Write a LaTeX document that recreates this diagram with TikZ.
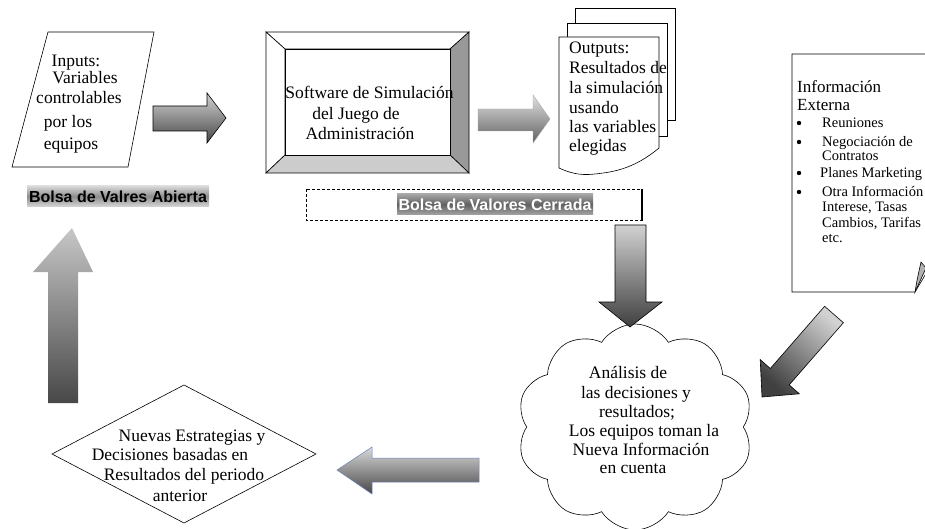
\documentclass[tikz,border=0pt]{standalone}
\usepackage{fontspec}
\setmainfont{Liberation Serif}
\newfontfamily\lsans{Liberation Sans}
\usetikzlibrary{shapes.geometric,shapes.symbols}
\begin{document}
\begin{tikzpicture}[x=1pt,y=-1pt,
  txt/.style={inner sep=0pt, anchor=base, font=\fontsize{17.5}{20}\selectfont},
  txtl/.style={inner sep=0pt, anchor=base west, font=\fontsize{17.5}{20}\selectfont},
  small/.style={inner sep=0pt, anchor=base west, font=\fontsize{14.5}{16}\selectfont},
  lab/.style={inner sep=0pt, font=\lsans\bfseries\fontsize{16}{18}\selectfont},
  shape line/.style={draw=black, line width=0.6pt},
  blk/.style={draw=black, line width=0.6pt},
  ]
\useasboundingbox (0,0) rectangle (925,529);

% ---------- Inputs parallelogram
\path[shape line, fill=white] (48,32) -- (154,32) -- (128,167) -- (12,167) -- cycle;
\node[txt] (in1) at (76,67) {Inputs:};
\node[txt] (in2) at (85,84) {Variables};
\node[txt] (in3) at (79,104) {controlables};
\node[txt] (in4) at (68,128) {por los};
\node[txt] (in5) at (71,150) {equipos};

% ---------- Bolsa abierta label
\shade[top color=black!15, bottom color=black!15, middle color=black!45] (27,186) rectangle (209,207);
\node[lab] (abierta) at (118,197) {Bolsa de Valres Abierta};

% ---------- Beveled software box
\path[shape line, fill=white] (266,32) -- (469,32) -- (450,49) -- (285,49) -- cycle;
\path[shape line, fill=white] (266,32) -- (285,49) -- (285,155) -- (266,173) -- cycle;
\path[shape line, fill=black!40] (469,32) -- (469,173) -- (450,155) -- (450,49) -- cycle;
\path[shape line, fill=black!20] (266,173) -- (469,173) -- (450,155) -- (285,155) -- cycle;
\path[shape line, fill=white] (285,49) rectangle (450,155);
\node[txt] (sw1) at (369.5,99) {Software de Simulación};
\node[txt] (sw2) at (356,120) {del Juego de};
\node[txt] (sw3) at (360,140) {Administración};

% ---------- Multi document
\path[shape line, fill=white] (575,8) rectangle (675,120);
\path[shape line, fill=white] (567,23) rectangle (667,136);
\path[shape line, fill=white] (559,37) -- (659,37) -- (659,148)
   .. controls (635,168) and (615,172) .. (595,174)
   .. controls (578,176) and (568,172) .. (559,168) -- cycle;
\node[txtl] (o1) at (569,54) {Outputs:};
\node[txtl] (o2) at (569,74) {Resultados de};
\node[txtl] (o3) at (569,94) {la simulación};
\node[txtl] (o4) at (569,114) {usando};
\node[txtl] (o5) at (569,133) {las variables};
\node[txtl] (o6) at (569,152) {elegidas};

% ---------- Bolsa cerrada dashed box
\draw[line width=0.6pt, dash pattern=on 3pt off 2pt] (306,189) rectangle (642,220);
\draw[line width=1.2pt] (642,189) -- (642,220);
\shade[top color=black!35, bottom color=black!35, middle color=black!62] (397,194) rectangle (593,215);
\node[lab, text=white] (cerrada) at (495,205) {Bolsa de Valores Cerrada};

% ---------- Informacion externa
\path[shape line, fill=white] (940,54) -- (792,54) -- (792,292) -- (915,292) -- (940,250);
\path[shape line, fill=black!30] (915,292) .. controls (917,280) .. (921,262) -- (926,268) -- cycle;
\node[inner sep=0pt, anchor=base west, font=\fontsize{17}{19}\selectfont] (ie1) at (797,93) {Información};
\node[inner sep=0pt, anchor=base west, font=\fontsize{17}{19}\selectfont] (ie2) at (797,111) {Externa};
\fill (799,123) circle (2.2);
\fill (799,142) circle (2.2);
\fill (799,173) circle (2.2);
\fill (799,192) circle (2.2);
\node[small] (b1) at (822,128) {Reuniones};
\node[small] (b2) at (822,147) {Negociación de};
\node[small] (b3) at (822,161) {Contratos};
\node[small] (b4) at (820,178) {Planes Marketing};
\node[small] (b5) at (822,197) {Otra Información};
\node[small] (b6) at (822,212) {Interese, Tasas};
\node[small] (b7) at (822,227) {Cambios, Tarifas};
\node[small] (b8) at (822,242) {etc.};

% ---------- Cloud
\node[cloud, draw, line width=0.6pt, fill=white, cloud puffs=10, cloud puff arc=115,
      cloud ignores aspect, minimum width=236pt, minimum height=206pt, inner sep=0pt] (cloud) at (635,427) {};
\node[txt] (c1) at (628,378) {Análisis de};
\node[txt] (c2) at (636,398) {las decisiones y};
\node[txt] (c3) at (637,417) {resultados;};
\node[txt] (c4) at (644,436) {Los equipos toman la};
\node[txt] (c5) at (641,455) {Nueva Información};
\node[txt] (c6) at (633,473) {en cuenta};

% ---------- Diamond
\path[shape line, fill=white] (52,454) -- (184,385) -- (316,454) -- (184,523) -- cycle;
\node[txt] (d1) at (192,441) {Nuevas Estrategias y};
\node[txt] (d2) at (170,460) {Decisiones basadas en};
\node[txt] (d3) at (184,480) {Resultados del periodo};
\node[txt] (d4) at (180,501) {anterior};

% ---------- Block arrows
% A1 right
\path[blk, top color=black!18, bottom color=black!72]
  (153,106) -- (207,106) -- (207,93) -- (226,118) -- (207,143) -- (207,131) -- (153,131) -- cycle;
% A2 right
\path[draw=black!35, line width=0.4pt, top color=black!12, bottom color=black!62]
  (478,109) -- (533,109) -- (533,95) -- (550,119) -- (533,143) -- (533,131) -- (478,131) -- cycle;
% A3 up
\path[top color=black!22, bottom color=black!72]
  (48,403) -- (48,272) -- (33,272) -- (72,228) -- (93,272) -- (78,272) -- (78,403) -- cycle;
% A4 down
\path[blk, top color=black!18, bottom color=black!75]
  (615,225) -- (646,225) -- (646,302) -- (662,302) -- (630,327) -- (599,302) -- (615,302) -- cycle;
% A5 diagonal
\path[blk, top color=black!18, bottom color=black!75, shading angle=-41]
  (843.4,322.7) -- (789.2,384.9) -- (799.3,393.8) -- (762,397) -- (760.2,359.6) -- (770.3,368.5) -- (824.6,306.3) -- cycle;
% A6 left
\path[draw={rgb,255:red,110;green,130;blue,190}, line width=0.5pt, top color=black!15, bottom color=black!72]
  (479,458) -- (372,458) -- (372,447) -- (337,470) -- (372,494) -- (372,482) -- (479,482) -- cycle;
\end{tikzpicture}
\end{document}
